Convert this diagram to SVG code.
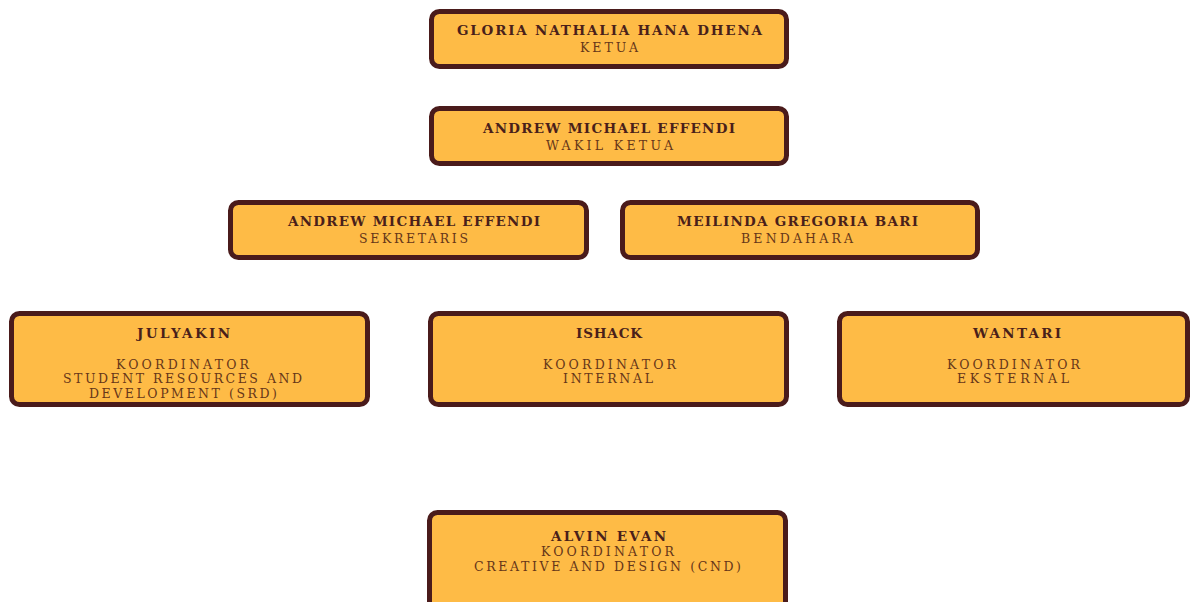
<svg xmlns="http://www.w3.org/2000/svg" width="1190" height="602" viewBox="0 0 1190 602">
  <style>
    .box { fill: #FEBB46; stroke: #4A1B1B; stroke-width: 5; }
    .name { font-family: "DejaVu Serif", "Liberation Serif", serif; font-weight: bold; font-size: 13.5px; fill: #4A1F1A; text-anchor: middle; }
    .role { font-family: "DejaVu Serif", "Liberation Serif", serif; font-size: 12.5px; fill: #663619; text-anchor: middle; }
  </style>
  <rect width="1190" height="602" fill="#FFFFFF"/>
  <g id="connectors"></g>
  <g id="ketua">
    <rect class="box" x="431.5" y="11.5" width="355" height="55" rx="8"/>
    <text class="name" x="609.5" y="35" textLength="305" lengthAdjust="spacing">GLORIA NATHALIA HANA DHENA</text>
    <text class="role" x="609" y="52" textLength="58" lengthAdjust="spacing">KETUA</text>
  </g>
  <g id="wakil-ketua">
    <rect class="box" x="431.5" y="108.5" width="355" height="55" rx="8"/>
    <text class="name" x="609" y="133" textLength="252" lengthAdjust="spacing">ANDREW MICHAEL EFFENDI</text>
    <text class="role" x="609.5" y="150" textLength="127" lengthAdjust="spacing">WAKIL KETUA</text>
  </g>
  <g id="sekretaris">
    <rect class="box" x="230.5" y="202.5" width="356" height="55" rx="8"/>
    <text class="name" x="414" y="226" textLength="252" lengthAdjust="spacing">ANDREW MICHAEL EFFENDI</text>
    <text class="role" x="413.5" y="243" textLength="109" lengthAdjust="spacing">SEKRETARIS</text>
  </g>
  <g id="bendahara">
    <rect class="box" x="622.5" y="202.5" width="355" height="55" rx="8"/>
    <text class="name" x="797.5" y="226" textLength="241" lengthAdjust="spacing">MEILINDA GREGORIA BARI</text>
    <text class="role" x="797" y="243" textLength="112" lengthAdjust="spacing">BENDAHARA</text>
  </g>
  <g id="koordinator-srd">
    <rect class="box" x="11.5" y="313.5" width="356" height="91" rx="8"/>
    <text class="name" x="183.5" y="338" textLength="93" lengthAdjust="spacing">JULYAKIN</text>
    <text class="role" x="182.5" y="369" textLength="133" lengthAdjust="spacing">KOORDINATOR</text>
    <text class="role" x="182.5" y="383" textLength="239" lengthAdjust="spacing">STUDENT RESOURCES AND</text>
    <text class="role" x="183" y="398" textLength="188" lengthAdjust="spacing">DEVELOPMENT (SRD)</text>
  </g>
  <g id="koordinator-internal">
    <rect class="box" x="430.5" y="313.5" width="356" height="91" rx="8"/>
    <text class="name" x="609" y="338" textLength="66" lengthAdjust="spacing">ISHACK</text>
    <text class="role" x="609.5" y="369" textLength="133" lengthAdjust="spacing">KOORDINATOR</text>
    <text class="role" x="608" y="383" textLength="90" lengthAdjust="spacing">INTERNAL</text>
  </g>
  <g id="koordinator-eksternal">
    <rect class="box" x="839.5" y="313.5" width="348" height="91" rx="8"/>
    <text class="name" x="1017" y="338" textLength="88" lengthAdjust="spacing">WANTARI</text>
    <text class="role" x="1013.5" y="369" textLength="133" lengthAdjust="spacing">KOORDINATOR</text>
    <text class="role" x="1013" y="383" textLength="112" lengthAdjust="spacing">EKSTERNAL</text>
  </g>
  <g id="koordinator-cnd">
    <rect class="box" x="429.5" y="512.5" width="356" height="120" rx="8"/>
    <text class="name" x="608.5" y="541" textLength="115" lengthAdjust="spacing">ALVIN EVAN</text>
    <text class="role" x="607.5" y="556" textLength="133" lengthAdjust="spacing">KOORDINATOR</text>
    <text class="role" x="607.5" y="571" textLength="267" lengthAdjust="spacing">CREATIVE AND DESIGN (CND)</text>
  </g>
</svg>
